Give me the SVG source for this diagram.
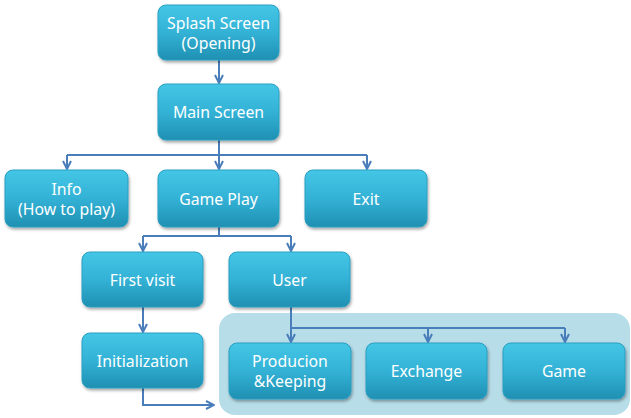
<svg xmlns="http://www.w3.org/2000/svg" width="631" height="418" viewBox="0 0 631 418">
<defs>
<linearGradient id="g" x1="0" y1="0" x2="0" y2="1">
<stop offset="0" stop-color="#44c6e6"/>
<stop offset="0.5" stop-color="#33b2d6"/>
<stop offset="1" stop-color="#1f90b2"/>
</linearGradient>
<filter id="sh" x="-10%" y="-10%" width="125%" height="135%">
<feDropShadow dx="1" dy="2" stdDeviation="1.5" flood-color="#000" flood-opacity="0.35"/>
</filter>
<marker id="ar" viewBox="0 0 10 10" refX="9" refY="5" markerWidth="10" markerHeight="10" markerUnits="userSpaceOnUse" orient="auto">
<path d="M1,1 L9,5 L1,9" fill="none" stroke="#4a7ebb" stroke-width="2"/>
</marker>
</defs>
<style>
.box{fill:url(#g);stroke:#2a9fc2;stroke-width:1;filter:url(#sh)}
.t{font-family:"Noto Sans","Open Sans",sans-serif;font-size:15.8px;fill:#ffffff;text-anchor:middle}
.c{fill:none;stroke:#4a7ebb;stroke-width:2}
</style>
<rect x="219" y="313" width="411" height="102" rx="16" fill="#b7dde8"/>
<g id="connectors">
<path class="c" d="M219,60 V83" marker-end="url(#ar)"/>
<path class="c" d="M219,140 V155"/>
<path class="c" d="M67,155 H367"/>
<path class="c" d="M67,155 V169" marker-end="url(#ar)"/>
<path class="c" d="M219,155 V169" marker-end="url(#ar)"/>
<path class="c" d="M367,155 V169" marker-end="url(#ar)"/>
<path class="c" d="M219,227 V236"/>
<path class="c" d="M143,236 H291"/>
<path class="c" d="M143,236 V251" marker-end="url(#ar)"/>
<path class="c" d="M291,236 V251" marker-end="url(#ar)"/>
<path class="c" d="M143,307 V332" marker-end="url(#ar)"/>
<path class="c" d="M143,388 V405 H214" marker-end="url(#ar)"/>
<path class="c" d="M291,307 V342" marker-end="url(#ar)"/>
<path class="c" d="M291,328 H565"/>
<path class="c" d="M428,328 V342" marker-end="url(#ar)"/>
<path class="c" d="M565,328 V342" marker-end="url(#ar)"/>
</g>
<g id="splash"><rect class="box" x="158" y="5" width="121" height="55" rx="8"/><text class="t" x="218.5" y="29">Splash Screen</text><text class="t" x="218.5" y="49">(Opening)</text></g>
<g id="main"><rect class="box" x="158" y="84" width="121" height="56" rx="8"/><text class="t" x="218.5" y="118">Main Screen</text></g>
<g id="info"><rect class="box" x="5" y="170" width="123" height="57" rx="8"/><text class="t" x="66.5" y="195">Info</text><text class="t" x="66.5" y="215">(How to play)</text></g>
<g id="gameplay"><rect class="box" x="158" y="170" width="121" height="57" rx="8"/><text class="t" x="218.5" y="205">Game Play</text></g>
<g id="exit"><rect class="box" x="305" y="170" width="122" height="57" rx="8"/><text class="t" x="366" y="205">Exit</text></g>
<g id="firstvisit"><rect class="box" x="82" y="252" width="121" height="55" rx="8"/><text class="t" x="142.5" y="286">First visit</text></g>
<g id="user"><rect class="box" x="229" y="252" width="121" height="55" rx="8"/><text class="t" x="289.5" y="286">User</text></g>
<g id="init"><rect class="box" x="82" y="333" width="121" height="55" rx="8"/><text class="t" x="142.5" y="367">Initialization</text></g>
<g id="production"><rect class="box" x="229" y="343" width="122" height="56" rx="8"/><text class="t" x="290" y="367">Producion</text><text class="t" x="290" y="387">&amp;Keeping</text></g>
<g id="exchange"><rect class="box" x="366" y="343" width="121" height="56" rx="8"/><text class="t" x="426.5" y="377">Exchange</text></g>
<g id="game"><rect class="box" x="503" y="343" width="122" height="56" rx="8"/><text class="t" x="564" y="377">Game</text></g>
</svg>
